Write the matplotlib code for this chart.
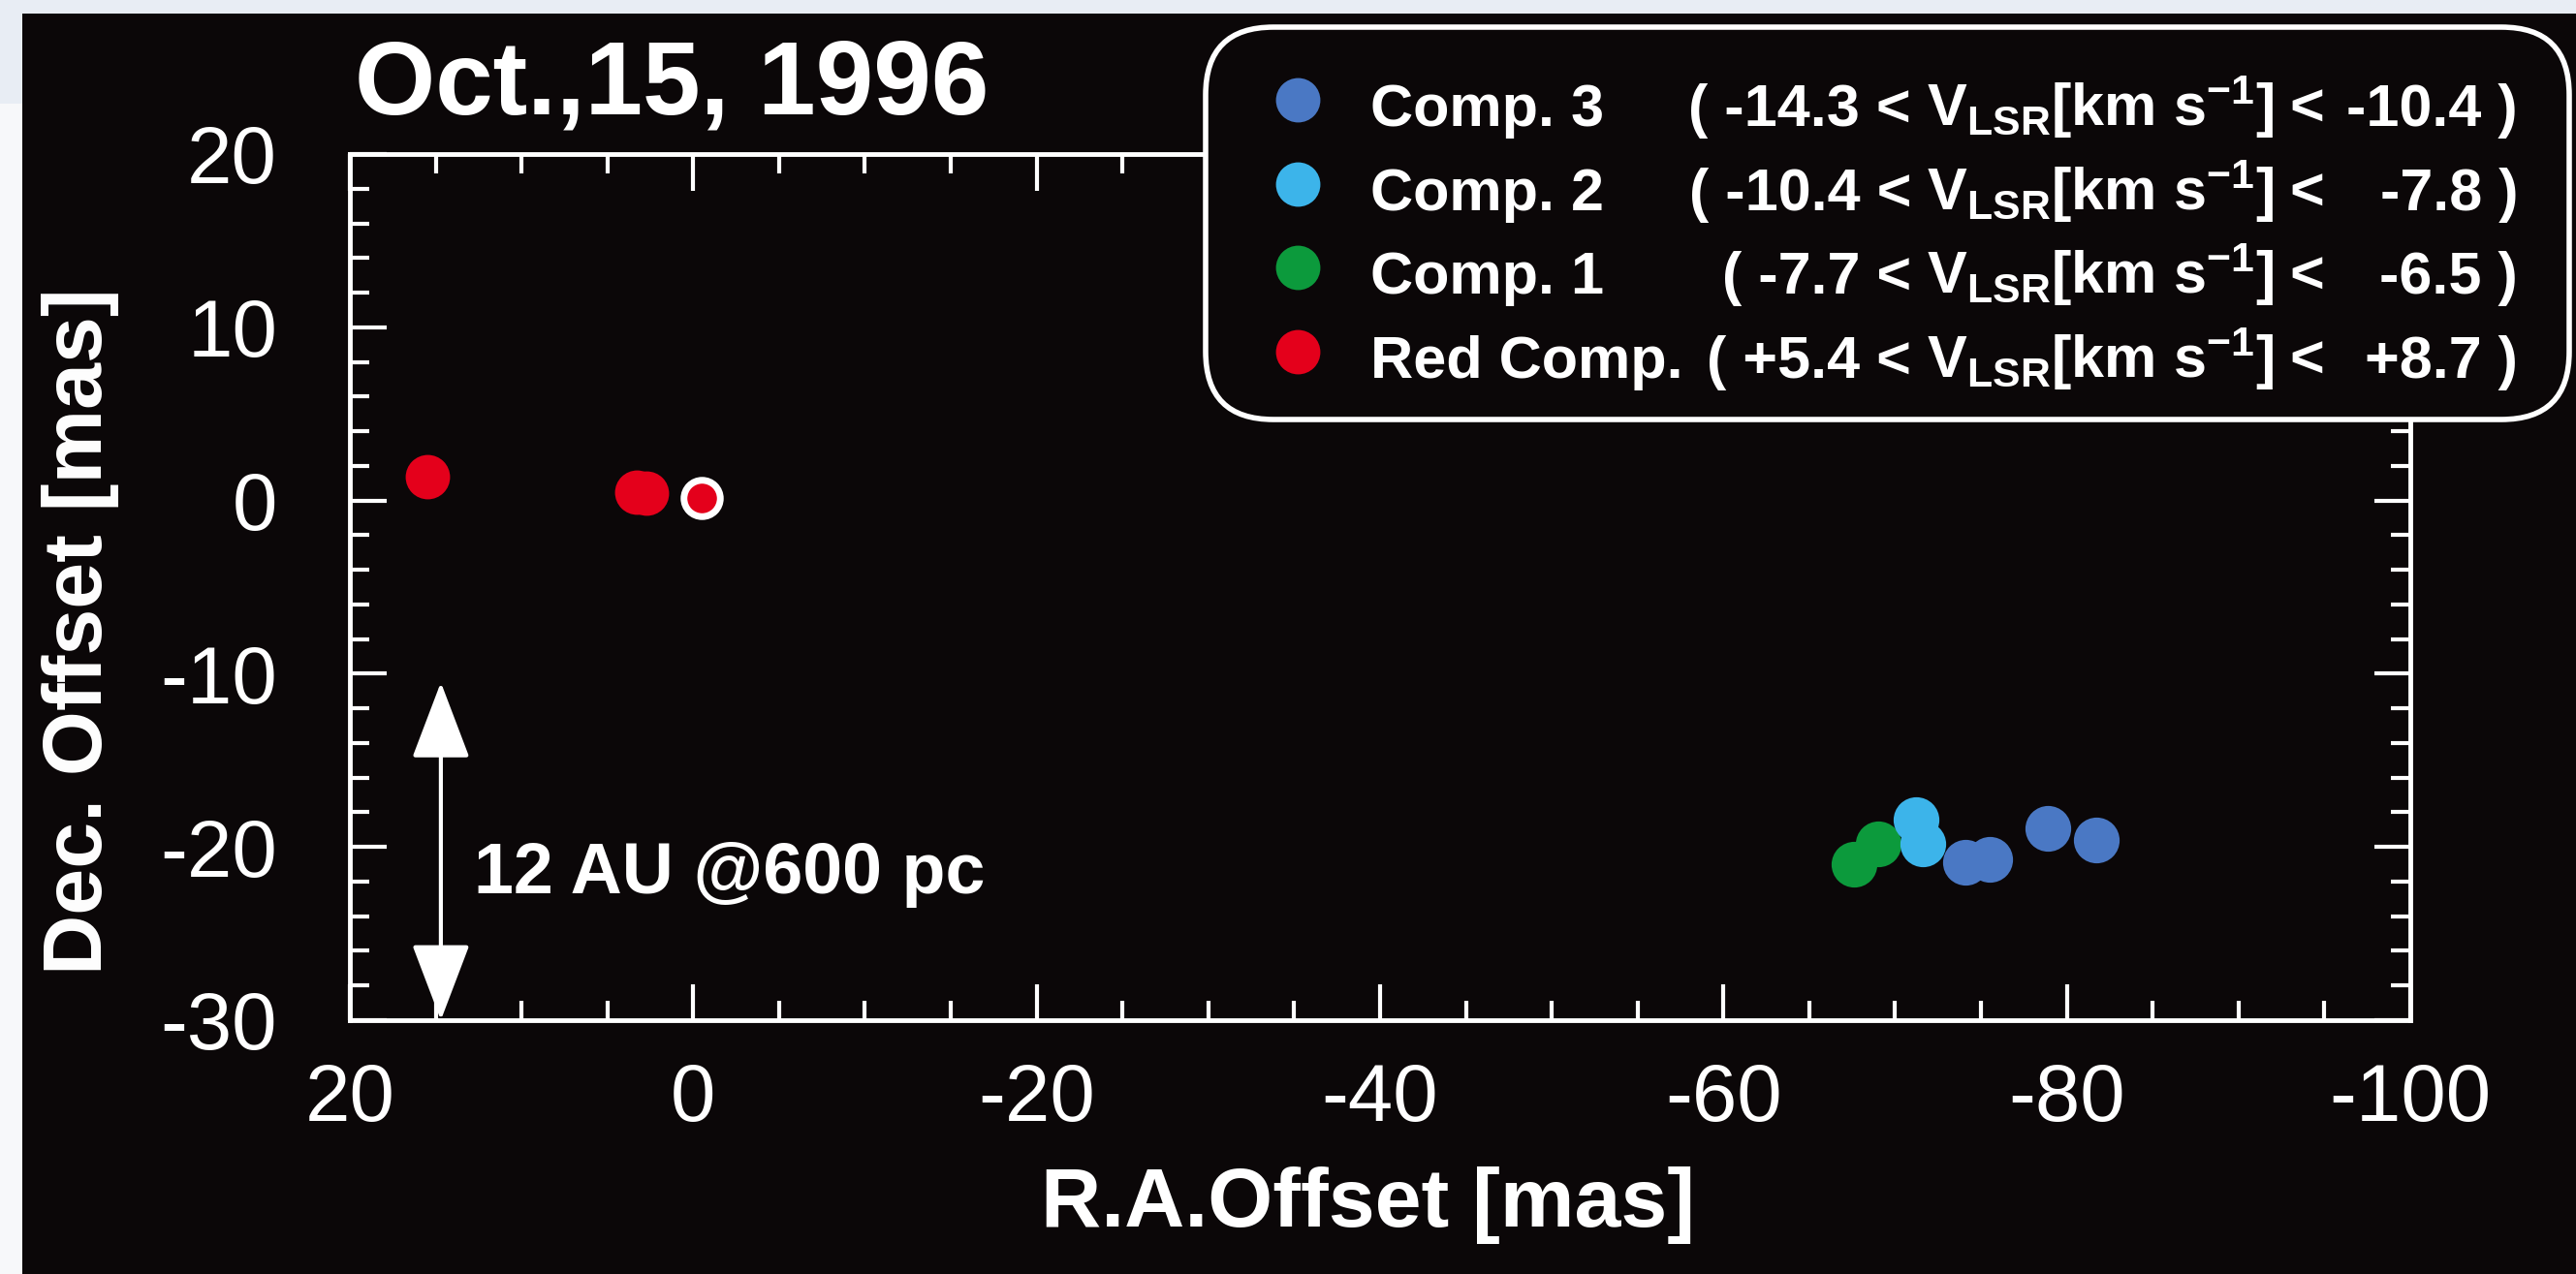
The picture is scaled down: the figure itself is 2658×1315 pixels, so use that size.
import matplotlib
matplotlib.use("Agg")
import matplotlib.pyplot as plt
from matplotlib.patches import FancyBboxPatch, Rectangle, FancyArrowPatch
from matplotlib.ticker import MultipleLocator

plt.rcParams['font.family'] = ['Liberation Sans', 'DejaVu Sans']
plt.rcParams['axes.unicode_minus'] = False
plt.rcParams['mathtext.fontset'] = 'custom'
plt.rcParams['mathtext.rm'] = 'Liberation Sans:bold'
plt.rcParams['mathtext.bf'] = 'Liberation Sans:bold'
plt.rcParams['mathtext.default'] = 'rm'

# maser spot positions (R.A., Dec. offsets in mas)
comp3_ra = [-74.1, -75.5, -78.9, -81.7]
comp3_dec = [-20.9, -20.7, -18.9, -19.6]
comp2_ra = [-71.2, -71.6]
comp2_dec = [-18.4, -19.8]
comp1_ra = [-67.6, -69.0]
comp1_dec = [-21.0, -19.8]
red_ra = [15.5, 3.3, 2.7]
red_dec = [1.4, 0.5, 0.45]
ref_ra = [-0.5]
ref_dec = [0.15]

# legend entries
names = ['Comp. 3', 'Comp. 2', 'Comp. 1', 'Red Comp.']
v_lo = ['-14.3', '-10.4', '-7.7', '+5.4']
v_hi = ['-10.4', '-7.8', '-6.5', '+8.7']
colors = ['#4a78c4', '#3cb4ea', '#0c9a3c', '#e4001b']

W, H = 2658, 1315
BG = '#0b0708'

fig = plt.figure(figsize=(W / 100, H / 100), dpi=100, facecolor='#f7f8fa')
# black page with a thin light margin on top/left
fig.patches.append(Rectangle((23 / W, 0), 1, 1 - 14 / H, transform=fig.transFigure,
                             facecolor=BG, edgecolor='none', zorder=-2))
fig.patches.append(Rectangle((0, 1 - 14 / H), 1, 14 / H, transform=fig.transFigure,
                             facecolor='#e8edf4', edgecolor='none', zorder=-2))
fig.patches.append(Rectangle((0, 1 - 107 / H), 23 / W, 107 / H, transform=fig.transFigure,
                             facecolor='#e8edf4', edgecolor='none', zorder=-2))

ax = fig.add_axes([361 / W, 1 - 1053 / H, (2487 - 361) / W, (1053 - 159) / H])
ax.set_facecolor('none')

ms = 34
ax.plot(comp1_ra, comp1_dec, 'o', color=colors[2], ms=ms, mec='none')
ax.plot(comp2_ra, comp2_dec, 'o', color=colors[1], ms=ms, mec='none')
ax.plot(comp3_ra, comp3_dec, 'o', color=colors[0], ms=ms, mec='none')
ax.plot(red_ra, red_dec, 'o', color=colors[3], ms=33, mec='none')
ax.plot(ref_ra, ref_dec, 'o', color=colors[3], ms=27, mec='white', mew=5)

ax.set_xlim(20, -100)
ax.set_ylim(-30, 20)
ax.xaxis.set_major_locator(MultipleLocator(20))
ax.xaxis.set_minor_locator(MultipleLocator(5))
ax.yaxis.set_major_locator(MultipleLocator(10))
ax.yaxis.set_minor_locator(MultipleLocator(2))

for s in ax.spines.values():
    s.set_color('white')
    s.set_linewidth(3.5)
ax.tick_params(which='both', direction='in', top=True, right=True, color='white',
               labelcolor='white', width=3)
ax.tick_params(which='major', length=27, labelsize=60)
ax.tick_params(which='minor', length=14.5)
ax.tick_params(axis='x', which='major', pad=31)
ax.tick_params(axis='y', which='major', pad=54)

ax.set_xlabel('R.A.Offset [mas]', fontsize=62, fontweight='bold', color='white')
ax.set_ylabel('Dec. Offset [mas]', fontsize=62, fontweight='bold', color='white')
ax.xaxis.set_label_coords(0.494, -0.169)
ax.yaxis.set_label_coords(-0.112, 0.4485)

# 20 mas scale bar
arrow = FancyArrowPatch((14.7, -30), (14.7, -10.5), arrowstyle='<|-|>,head_length=0.5,head_width=0.19',
                        mutation_scale=100, color='white', lw=3, shrinkA=0, shrinkB=0)
ax.add_patch(arrow)
ax.text(12.8, -22.7, '12 AU @600 pc', fontsize=53, fontweight='bold', color='white',
        ha='left', va='baseline')

# overlay in pixel units for the title and the legend box
ov = fig.add_axes([0, 0, 1, 1], zorder=5)
ov.set_xlim(0, W)
ov.set_ylim(H, 0)
ov.axis('off')
ov.patch.set_alpha(0)

ov.text(366, 117, 'Oct.,15, 1996', fontsize=77, fontweight='bold', color='white',
        ha='left', va='baseline')

box = FancyBboxPatch((1244, 28), 2651 - 1244, 433 - 28, boxstyle='round,pad=0,rounding_size=70',
                     facecolor=BG, edgecolor='white', lw=4)
ov.add_patch(box)

base = [130, 217, 303, 390]
for i in range(4):
    y = base[i]
    ov.plot([1339], [y - 27], 'o', color=colors[i], ms=33, mec='none')
    kw = dict(fontsize=44, fontweight='bold', color='white', va='baseline')
    ov.text(1414, y, names[i], ha='left', **kw)
    ov.text(1972, y, '( ' + v_lo[i] + ' <', ha='right', **kw)
    ov.text(1988, y, r'V$_{LSR}$[km s$^{-1}$]', ha='left', **kw)
    ov.text(2362, y, '<', ha='left', **kw)
    ov.text(2598, y, v_hi[i] + ' )', ha='right', **kw)

fig.savefig('out.png', dpi=100, facecolor=fig.get_facecolor())
